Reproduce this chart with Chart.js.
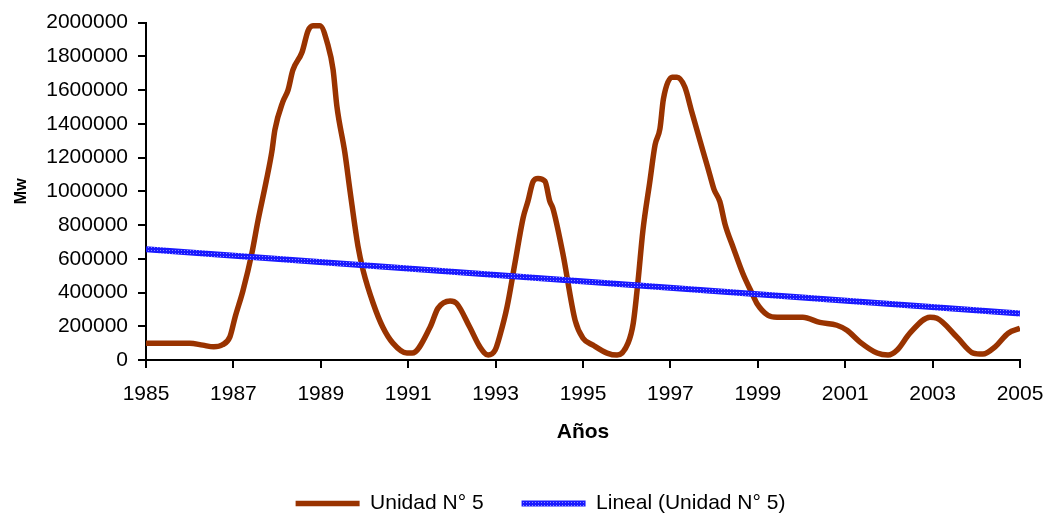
<!DOCTYPE html>
<html>
<head>
<meta charset="utf-8">
<script src="https://cdn.jsdelivr.net/npm/chart.js@4.4.0/dist/chart.umd.min.js"></script>
<style>
  html, body { margin: 0; padding: 0; background: #fff; }
  #wrap { width: 1049px; height: 519px; }
</style>
</head>
<body>
<div id="wrap"><canvas id="grafico"></canvas></div>
<script>
// Energía generada por la Unidad N° 5 (Mw), por año
const anios = [
  1985.0, 1985.5, 1986.0, 1986.3, 1986.55, 1986.75, 1986.92, 1987.04, 1987.22, 1987.42,
  1987.56, 1987.75, 1987.88, 1987.95, 1988.13, 1988.25, 1988.36, 1988.57, 1988.71, 1988.82,
  1988.98, 1989.16, 1989.28, 1989.37, 1989.55, 1989.67, 1989.85, 1989.97, 1990.2, 1990.42,
  1990.65, 1990.97, 1991.09, 1991.5, 1991.68, 1991.96, 1992.11, 1992.41, 1992.64, 1992.83,
  1992.99, 1993.1, 1993.26, 1993.44, 1993.63, 1993.74, 1993.86, 1993.97, 1994.13, 1994.24,
  1994.31, 1994.54, 1994.82, 1995.0, 1995.23, 1995.55, 1995.78, 1996.03, 1996.15, 1996.26,
  1996.37, 1996.53, 1996.65, 1996.76, 1996.84, 1997.04, 1997.15, 1997.33, 1997.49, 1997.75,
  1997.9, 1998.0, 1998.13, 1998.25, 1998.44, 1998.66, 1998.87, 1998.98, 1999.23, 1999.44,
  2000.03, 2000.42, 2000.81, 2001.04, 2001.34, 2001.73, 2001.98, 2002.19, 2002.48, 2002.94,
  2003.1, 2003.56, 2003.93, 2004.15, 2004.43, 2004.73, 2005.0
];
const unidad5 = [
  100000, 100000, 100000, 88000, 78000, 90000, 137000, 255000, 412000, 630000,
  823000, 1059000, 1235000, 1365000, 1530000, 1600000, 1718000, 1824000, 1953000, 1982000,
  1982000, 1870000, 1723000, 1500000, 1230000, 1000000, 676000, 530000, 335000, 194000,
  100000, 41000, 41000, 194000, 306000, 350000, 335000, 194000, 78000, 29000,
  59000, 147000, 312000, 570000, 843000, 941000, 1059000, 1076000, 1059000, 941000,
  900000, 630000, 235000, 129000, 88000, 41000, 29000, 100000, 218000, 470000,
  765000, 1059000, 1276000, 1370000, 1547000, 1676000, 1676000, 1618000, 1470000, 1235000,
  1100000, 1010000, 940000, 805000, 665000, 511000, 394000, 335000, 265000, 253000,
  253000, 223000, 206000, 176000, 106000, 41000, 29000, 59000, 159000, 253000,
  247000, 135000, 41000, 35000, 78000, 159000, 188000
];

// Línea de tendencia lineal (extremos)
const tendAnios = [1985, 2005];
const tendValores = [657000, 275000];

const ticksX = [1985, 1987, 1989, 1991, 1993, 1995, 1997, 1999, 2001, 2003, 2005];

const fuente = "'Liberation Sans', Arial, sans-serif";

// trama punteada azul para la tendencia
function tramaAzul() {
  const c = document.createElement("canvas");
  c.width = 3; c.height = 3;
  const g = c.getContext("2d");
  g.fillStyle = "#1a1aff";
  g.fillRect(0, 0, 3, 3);
  g.fillStyle = "#8c8cff";
  g.fillRect(1, 1, 1, 1);
  return g.createPattern(c, "repeat");
}
const azul = tramaAzul();

const serie = anios.map((a, i) => ({ x: a, y: unidad5[i] }));
const tendencia = tendAnios.map((a, i) => ({ x: a, y: tendValores[i] }));

// leyenda más baja y corrida a la derecha
const ajustarLeyenda = {
  id: "ajustarLeyenda",
  afterInit(chart) {
    const lg = chart.legend;
    const fitOrig = lg.fit.bind(lg);
    lg.fit = function () { fitOrig(); this.height = 64; };
  },
  afterLayout(chart) {
    chart.legend.left += 16;
    chart.legend.right += 16;
  }
};

new Chart(document.getElementById("grafico"), {
  type: "line",
  data: {
    datasets: [
      {
        label: "Unidad N° 5",
        data: serie,
        borderColor: "#993300",
        backgroundColor: "#993300",
        borderWidth: 5.5,
        pointRadius: 0,
        cubicInterpolationMode: "monotone",
        order: 2
      },
      {
        label: "Lineal (Unidad N° 5)",
        data: tendencia,
        borderColor: azul,
        backgroundColor: azul,
        borderWidth: 6,
        pointRadius: 0,
        order: 1
      }
    ]
  },
  options: {
    responsive: true,
    maintainAspectRatio: false,
    animation: false,
    layout: { padding: { top: 20, left: 0, right: 0, bottom: 0 } },
    plugins: {
      tooltip: { enabled: false },
      legend: {
        position: "bottom",
        labels: {
          usePointStyle: true,
          pointStyle: "line",
          pointStyleWidth: 64,
          padding: 38,
          color: "#000",
          font: { family: fuente, size: 21 },
          sort: (a, b) => a.datasetIndex - b.datasetIndex
        }
      }
    },
    scales: {
      x: {
        type: "linear",
        min: 1985,
        max: 2005,
        afterBuildTicks: (s) => { s.ticks = ticksX.map(v => ({ value: v })); },
        afterFit: (s) => { s.paddingRight = 29; s.paddingLeft = 0; s.height = 95; },
        ticks: {
          color: "#000",
          padding: 14,
          maxRotation: 0,
          autoSkip: false,
          font: { family: fuente, size: 21 },
          callback: (v) => String(v)
        },
        grid: { display: true, drawOnChartArea: false, drawTicks: true, tickLength: 8, color: "#000", lineWidth: 2 },
        border: { display: true, color: "#000", width: 2 },
        title: {
          display: true,
          text: "Años",
          color: "#000",
          padding: { top: 20, bottom: 10 },
          font: { family: fuente, size: 21, weight: "bold" }
        }
      },
      y: {
        min: 0,
        max: 2000000,
        afterFit: (s) => { s.width = 146; },
        ticks: {
          stepSize: 200000,
          color: "#000",
          padding: 10,
          font: { family: fuente, size: 21 },
          callback: (v) => String(v)
        },
        grid: { display: true, drawOnChartArea: false, drawTicks: true, tickLength: 8, color: "#000", lineWidth: 2 },
        border: { display: true, color: "#000", width: 2 },
        title: {
          display: true,
          text: "Mw",
          color: "#000",
          padding: { top: 12, bottom: 0 },
          font: { family: fuente, size: 16, weight: "bold" }
        }
      }
    }
  },
  plugins: [ajustarLeyenda]
});
</script>
</body>
</html>
